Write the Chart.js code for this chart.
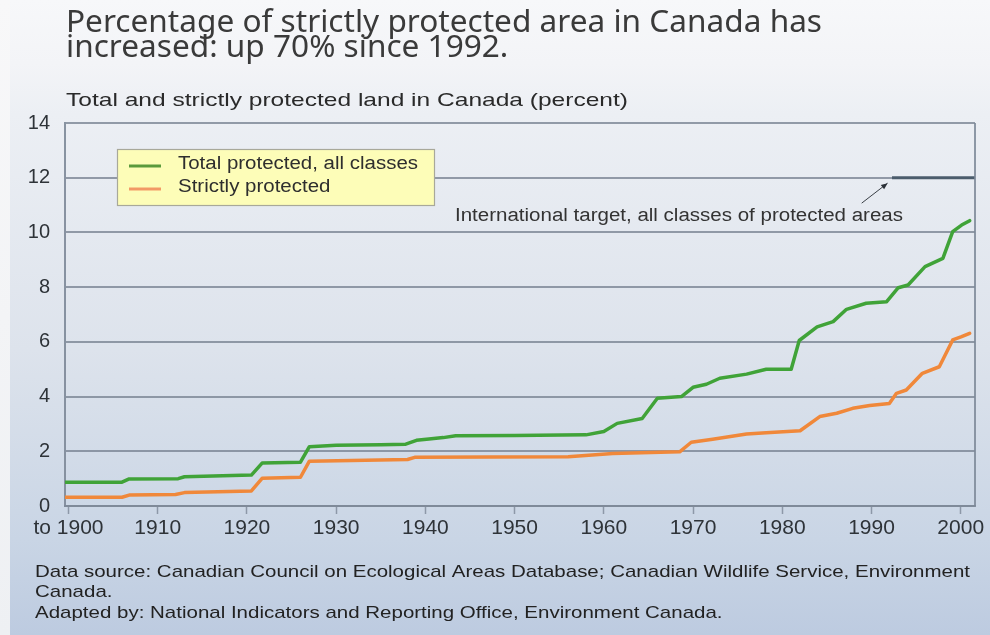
<!DOCTYPE html>
<html><head><meta charset="utf-8">
<script src="https://cdn.jsdelivr.net/npm/chart.js@4.4.1/dist/chart.umd.min.js"></script>
<style>html,body{margin:0;padding:0;background:#fff;overflow:hidden}#c{display:block}</style>
</head><body>
<canvas id="c" width="990" height="635"></canvas>
<script>
// ---- data ----
const totalYears = [1899.6,1906,1906.8,1912.3,1913,1920.5,1921.7,1926,1927,1930,1935,1937.8,1939,1940.4,1942,1943.4,1950,1958,1960,1961.5,1964.3,1966,1968.7,1970,1971.5,1973,1976,1978.2,1981,1981.9,1983.9,1985.7,1987.2,1989.4,1991.7,1993,1994.1,1996,1998,1999.1,2000.1,2001];
const totalValues = [0.87,0.87,0.99,1.0,1.07,1.13,1.57,1.6,2.17,2.22,2.24,2.26,2.4,2.45,2.5,2.57,2.58,2.6,2.72,3.02,3.2,3.94,4.0,4.34,4.45,4.67,4.82,5.0,5.0,6.05,6.55,6.74,7.19,7.41,7.47,7.98,8.08,8.75,9.05,10.03,10.27,10.43];
const strictYears = [1899.6,1906,1906.8,1912,1913,1920.5,1921.7,1926,1927,1938,1938.8,1956,1961,1968.5,1969.8,1972.2,1976,1978.2,1982,1984.2,1986.1,1987.9,1989.8,1992,1992.8,1993.9,1995.7,1997.6,1999.1,2000.1,2001];
const strictValues = [0.32,0.32,0.40,0.42,0.49,0.55,1.01,1.05,1.64,1.7,1.78,1.8,1.92,1.98,2.33,2.44,2.63,2.68,2.75,3.27,3.39,3.57,3.67,3.75,4.12,4.24,4.85,5.09,6.07,6.19,6.31];
const targetYears = [1992.3, 2001.6];
const targetValues = [12, 12];
const xTickValues = [1900,1910,1920,1930,1940,1950,1960,1970,1980,1990,2000];
const xTickLabels = ['to 1900','1910','1920','1930','1940','1950','1960','1970','1980','1990','2000'];
const seriesLabels = ['Total protected, all classes','Strictly protected'];
const titleLines = ['Percentage of strictly protected area in Canada has','increased: up 70% since 1992.'];
const subtitleText = 'Total and strictly protected land in Canada (percent)';
const annotationText = 'International target, all classes of protected areas';
const footerLines = ['Data source: Canadian Council on Ecological Areas Database; Canadian Wildlife Service, Environment','Canada.','Adapted by: National Indicators and Reporting Office, Environment Canada.'];

const GREEN = '#40a338', ORANGE = '#f0883a', TARGET = '#4b5c6c';

function pts(xs, ys){ return xs.map((x,i)=>({x:x,y:ys[i]})); }

function drawFit(ctx, text, x, y, font, color, width, scaleOverride){
  ctx.save();
  ctx.font = font;
  const w = ctx.measureText(text).width;
  const s = scaleOverride || (width / w);
  ctx.translate(x, y); ctx.scale(s, 1);
  ctx.fillStyle = color; ctx.textAlign='left';
  ctx.fillText(text, 0, 0);
  ctx.restore();
  return s;
}
function fitScale(ctx, text, font, width){ ctx.save(); ctx.font=font; const w=ctx.measureText(text).width; ctx.restore(); return width/w; }

const decor = {
  id:'decor',
  beforeDraw(chart){
    const ctx = chart.ctx, W = chart.width, H = chart.height;
    ctx.save();
    const g = ctx.createLinearGradient(0,0,0,H);
    g.addColorStop(0,'#f7f8fa'); g.addColorStop(0.1,'#f3f4f7'); g.addColorStop(0.18,'#eceff4');
    g.addColorStop(0.55,'#dde3ec'); g.addColorStop(0.85,'#c9d5e5'); g.addColorStop(1,'#bdcbe0');
    ctx.fillStyle = g; ctx.fillRect(0,0,W,H);
    const g2 = ctx.createLinearGradient(0,0,0,H);
    g2.addColorStop(0,'#f8f8f9'); g2.addColorStop(1,'#eef0f3');
    ctx.fillStyle = g2; ctx.fillRect(0,0,10,H);
    ctx.restore();
  },
  afterDatasetsDraw(chart){
    const ctx = chart.ctx, a = chart.chartArea, xs = chart.scales.x, ys = chart.scales.y;
    ctx.save();
    // right border
    ctx.strokeStyle = 'rgba(125,136,152,0.85)'; ctx.lineWidth = 2;
    ctx.beginPath(); ctx.moveTo(a.right, a.top); ctx.lineTo(a.right, a.bottom); ctx.stroke();
    // title
    ctx.textBaseline = 'alphabetic';
    const tf = '31px "Noto Sans"';
    const ts = fitScale(ctx, titleLines[0], tf, 756);
    drawFit(ctx, titleLines[0], 66, 32, tf, '#3a3a3a', 0, ts);
    drawFit(ctx, titleLines[1], 66, 57, tf, '#3a3a3a', 0, ts);
    // subtitle
    drawFit(ctx, subtitleText, 66, 106, '19px "Liberation Sans"', '#2a2a2a', 562);
    // legend box
    const lx = 117, ly = 149, lw = 318, lh = 57;
    ctx.fillStyle = '#fdfdb8'; ctx.fillRect(lx, ly, lw, lh);
    ctx.strokeStyle = '#a8a89a'; ctx.lineWidth = 1.2; ctx.strokeRect(lx+0.5, ly+0.5, lw-1, lh-1);
    const lcols = ['#5a9a3c', '#f29a66'];
    ctx.textBaseline = 'middle';
    const lf = '18px "Liberation Sans"';
    const ls = fitScale(ctx, seriesLabels[0], lf, 240);
    seriesLabels.forEach((t,i)=>{
      const yy = ly + 17 + i*23;
      ctx.strokeStyle = lcols[i]; ctx.lineWidth = 3;
      ctx.beginPath(); ctx.moveTo(lx+12, yy); ctx.lineTo(lx+44, yy); ctx.stroke();
      drawFit(ctx, t, lx+61, yy-2, lf, '#2e2e2e', 0, ls);
    });
    // annotation
    drawFit(ctx, annotationText, 455, 216, '18px "Liberation Sans"', '#333', 448);
    // arrow
    const x0 = xs.getPixelForValue(1988.9), y0 = ys.getPixelForValue(11.07);
    const x1 = xs.getPixelForValue(1991.8), y1 = ys.getPixelForValue(11.8);
    ctx.strokeStyle = '#3a3f46'; ctx.lineWidth = 1;
    ctx.beginPath(); ctx.moveTo(x0,y0); ctx.lineTo(x1,y1); ctx.stroke();
    const ang = Math.atan2(y1-y0, x1-x0);
    ctx.fillStyle = '#2a2f36';
    ctx.beginPath(); ctx.moveTo(x1,y1);
    ctx.lineTo(x1 - 7*Math.cos(ang-0.4), y1 - 7*Math.sin(ang-0.4));
    ctx.lineTo(x1 - 7*Math.cos(ang+0.4), y1 - 7*Math.sin(ang+0.4));
    ctx.closePath(); ctx.fill();
    // footer
    ctx.textBaseline = 'middle';
    const ff = '17px "Liberation Sans"';
    const fs = fitScale(ctx, footerLines[0], ff, 935);
    drawFit(ctx, footerLines[0], 35, 572, ff, '#222', 0, fs);
    drawFit(ctx, footerLines[1], 35, 592, ff, '#222', 0, fs);
    drawFit(ctx, footerLines[2], 35, 613, ff, '#222', 0, fs);
    ctx.restore();
  }
};

new Chart(document.getElementById('c'), {
  type: 'line',
  data: {
    datasets: [
      {label: seriesLabels[0], data: pts(totalYears, totalValues), borderColor: GREEN, borderWidth: 3.5, pointRadius: 0, tension: 0, borderJoinStyle:'round', borderCapStyle:'round'},
      {label: seriesLabels[1], data: pts(strictYears, strictValues), borderColor: ORANGE, borderWidth: 3.5, pointRadius: 0, tension: 0, borderJoinStyle:'round', borderCapStyle:'round'},
      {label: 'International target', data: pts(targetYears, targetValues), borderColor: TARGET, borderWidth: 3, pointRadius: 0, tension: 0}
    ]
  },
  options: {
    responsive: false, animation: false, devicePixelRatio: 1,
    layout: {padding: {left: 0, right: 15, top: 123, bottom: 0}},
    plugins: {legend: {display: false}, tooltip: {enabled: false}, title: {display: false}},
    scales: {
      x: {
        type: 'linear', min: 1899.61, max: 2001.6,
        afterBuildTicks: (ax)=>{ ax.ticks = xTickValues.map(v=>({value:v})); },
        afterFit: (ax)=>{ ax.height = 129; },
        ticks: {callback: (v)=>{ const i = xTickValues.indexOf(v); return i>=0 ? xTickLabels[i] : ''; }, color:'#2e3338', font:{family:'"Liberation Sans"', size:21}, padding: 2, maxRotation: 0, autoSkip: false},
        grid: {display: true, drawOnChartArea: false, drawTicks: true, tickLength: 8, tickColor: 'rgba(125,136,152,0.8)', tickWidth: 1.5},
        border: {display: true, color: 'rgba(125,136,152,0.9)', width: 2}
      },
      y: {
        min: 0, max: 14,
        afterFit: (ax)=>{ ax.width = 65; },
        ticks: {stepSize: 2, color:'#2e3338', font:{family:'"Liberation Sans"', size:20}, padding: 15},
        grid: {color: 'rgba(122,132,148,0.8)', lineWidth: 2, drawTicks: false},
        border: {display: true, color: 'rgba(125,136,152,0.9)', width: 2}
      }
    }
  },
  plugins: [decor]
});
</script>
</body></html>
